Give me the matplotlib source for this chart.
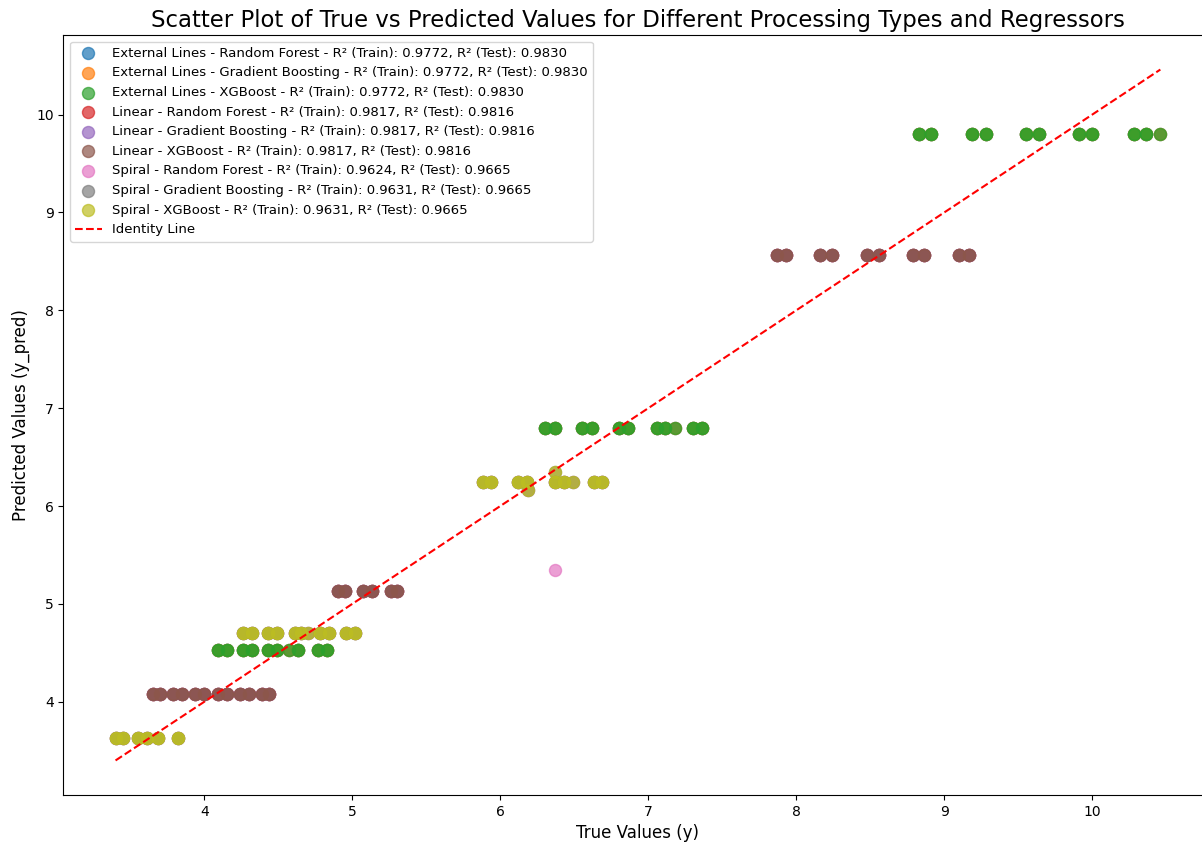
import numpy as np
import matplotlib.pyplot as plt

regressors = ['Random Forest', 'Gradient Boosting', 'XGBoost']

# R² scores (train, test) per processing type and regressor
r2_train = {
    'External Lines': [0.9772, 0.9772, 0.9772],
    'Linear': [0.9817, 0.9817, 0.9817],
    'Spiral': [0.9624, 0.9631, 0.9631],
}
r2_test = {
    'External Lines': [0.9830, 0.9830, 0.9830],
    'Linear': [0.9816, 0.9816, 0.9816],
    'Spiral': [0.9665, 0.9665, 0.9665],
}

# external lines
ext_true = [4.09, 4.15, 4.26, 4.32, 4.43, 4.49, 4.57, 4.63, 4.77, 4.83,
            6.30, 6.37, 6.55, 6.62, 6.80, 6.86, 7.06, 7.11, 7.18, 7.30, 7.36,
            8.83, 8.91, 9.19, 9.28, 9.55, 9.64, 9.91, 10.00, 10.28, 10.36, 10.46]
ext_count = [2, 2, 2, 2, 2, 2, 1, 2, 2, 2,
             2, 2, 2, 2, 2, 2, 2, 2, 1, 2, 2,
             2, 2, 2, 2, 2, 2, 2, 2, 2, 2, 1]
ext_pred = [4.53] * 10 + [6.80] * 11 + [9.80] * 11

# linear
lin_true = [3.65, 3.70, 3.79, 3.85, 3.94, 4.00, 4.09, 4.15, 4.24, 4.30, 4.39, 4.44,
            4.90, 4.95, 5.07, 5.13, 5.26, 5.30,
            7.87, 7.93, 8.16, 8.24, 8.48, 8.56, 8.79, 8.86, 9.10, 9.17]
lin_count = [2] * 28
lin_pred = [4.08] * 12 + [5.13] * 6 + [8.57] * 10

# spiral
spi_true = [3.40, 3.45, 3.55, 3.61, 3.69, 3.82,
            4.26, 4.32, 4.43, 4.49, 4.61, 4.65, 4.70, 4.78, 4.84, 4.96, 5.02,
            5.88, 5.94, 6.12, 6.18, 6.19, 6.37, 6.37, 6.43, 6.49, 6.63, 6.69]
spi_count = [2, 2, 2, 2, 2, 2,
             2, 2, 2, 2, 2, 2, 1, 2, 2, 2, 2,
             2, 2, 2, 2, 1, 2, 1, 2, 1, 2, 2]
spi_pred_xgb = ([3.63] * 6 + [4.70] * 11 +
                [6.25, 6.25, 6.25, 6.25, 6.165, 6.25, 6.35, 6.25, 6.25, 6.25, 6.25])
spi_pred_rf = ([3.63] * 6 + [4.70] * 11 +
               [6.25, 6.25, 6.25, 6.25, 6.165, 6.25, 5.35, 6.25, 6.25, 6.25, 6.25])

data = {
    'External Lines': (ext_true, ext_count, [ext_pred, ext_pred, ext_pred]),
    'Linear': (lin_true, lin_count, [lin_pred, lin_pred, lin_pred]),
    'Spiral': (spi_true, spi_count, [spi_pred_rf, spi_pred_xgb, spi_pred_xgb]),
}

fig = plt.figure(figsize=(12.02, 8.43), dpi=100)
ax = fig.add_axes([63.3 / 1202, 48 / 843, 1149.3 / 1202, 760 / 843])

all_true = []
for ptype, (y_true, counts, preds) in data.items():
    y_rep = np.repeat(y_true, counts)
    all_true.extend(y_rep)
    for i, reg in enumerate(regressors):
        p_rep = np.repeat(preds[i], counts)
        ax.scatter(y_rep, p_rep, s=75, alpha=0.7,
                   label=f'{ptype} - {reg} - R² (Train): {r2_train[ptype][i]:.4f}, '
                         f'R² (Test): {r2_test[ptype][i]:.4f}')

lo, hi = min(all_true), max(all_true)
ax.plot([lo, hi], [lo, hi], 'r--', label='Identity Line')

ax.set_xlabel('True Values (y)', fontsize=12)
ax.set_ylabel('Predicted Values (y_pred)', fontsize=12)
ax.set_title('Scatter Plot of True vs Predicted Values for Different Processing Types and Regressors',
             fontsize=16.4)
ax.legend(loc='upper left', fontsize=9.5)

fig.savefig('out.png', dpi=100)
